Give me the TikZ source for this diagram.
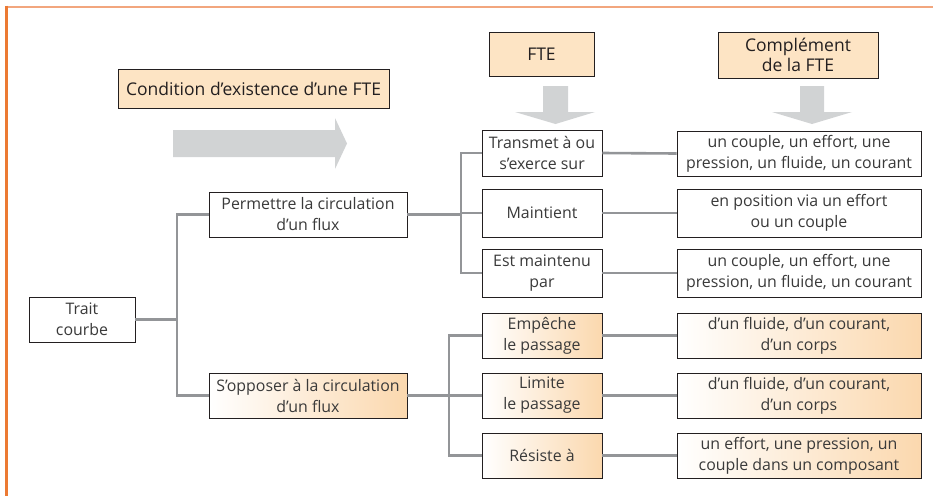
\documentclass[tikz,border=0pt]{standalone}
\usepackage{fontspec}
\setmainfont{Open Sans}
\usetikzlibrary{shadows}
\definecolor{frameTop}{HTML}{F2A67E}
\definecolor{frameLeft}{HTML}{EC7A33}
\definecolor{hdrfill}{HTML}{FDE4C4}
\definecolor{gradR}{HTML}{FBD8AE}
\definecolor{conn}{HTML}{939598}
\definecolor{arrowgray}{HTML}{D1D3D4}
\definecolor{boxline}{HTML}{231F20}
\definecolor{txt}{HTML}{3A3A3A}
\tikzset{
  base/.style={draw=boxline, line width=0.9pt, inner sep=0pt, align=center,
    drop shadow={shadow xshift=1.1pt, shadow yshift=-1.1pt, fill=black!45, opacity=1}},
  hdr/.style={base, fill=hdrfill, text=boxline, font=\fontsize{17.5}{21}\selectfont},
  box/.style={base, fill=white, text=txt, font=\fontsize{15.9}{21}\selectfont},
  gbox/.style={base, left color=white, right color=gradR, text=txt, font=\fontsize{15.9}{21}\selectfont},
  link/.style={draw=conn, line width=2.6pt},
  bigarrow/.style={fill=arrowgray, draw=none}
}
\begin{document}
\begin{tikzpicture}[x=1pt,y=-1pt]
\useasboundingbox (0,0) rectangle (933,496);
% frame
\draw[frameTop, line width=2.2pt] (6,6.7) -- (933,6.7);
\draw[frameLeft, line width=2.2pt] (6.5,5.6) -- (6.5,496);

% headers
\node[hdr, minimum width=271pt, minimum height=39pt] (cond) at (253.5,88.5) {Condition d’existence d’une FTE};
\node[hdr, minimum width=105pt, minimum height=44pt] (fte) at (541.5,54) {FTE};
\node[hdr, minimum width=160pt, minimum height=46pt] (comp) at (798,55) {Complément\\[-1pt]de la FTE};

% big arrows
\fill[bigarrow] (173,130) -- (335,130) -- (335,118) -- (347,143.5) -- (335,169) -- (335,157) -- (173,157) -- cycle;
\fill[bigarrow] (543,86) -- (568,86) -- (568,112) -- (595,112) -- (555.5,124) -- (515,112) -- (543,112) -- cycle;
\fill[bigarrow] (800,86) -- (824,86) -- (824,112) -- (852,112) -- (812,124) -- (772,112) -- (800,112) -- cycle;

% main nodes
\node[box, minimum width=106pt, minimum height=45pt] (trait) at (82,319.5) {Trait\\courbe};
\node[box, minimum width=198pt, minimum height=45pt] (perm) at (308,214.5) {Permettre la circulation\\d’un flux};
\node[gbox, minimum width=198pt, minimum height=45pt] (opp) at (308,395.5) {S’opposer à la circulation\\d’un flux};

\node[box, minimum width=120pt, minimum height=46pt] (trans) at (542,153) {Transmet à ou\\s’exerce sur};
\node[box, minimum width=120pt, minimum height=48pt] (maint) at (542,213) {Maintient};
\node[box, minimum width=120pt, minimum height=48pt] (est) at (542,273) {Est maintenu\\par};
\node[gbox, minimum width=120pt, minimum height=45pt] (emp) at (542,335.5) {Empêche\\le passage};
\node[gbox, minimum width=120pt, minimum height=45pt] (lim) at (542,395.5) {Limite\\le passage};
\node[gbox, minimum width=120pt, minimum height=45pt] (res) at (542,455.5) {Résiste à};

\node[box, minimum width=244pt, minimum height=45pt] (r1) at (799,153.5) {un couple, un effort, une\\pression, un fluide, un courant};
\node[box, minimum width=244pt, minimum height=48pt] (r2) at (799,213) {en position via un effort\\ou un couple};
\node[box, minimum width=244pt, minimum height=48pt] (r3) at (799,273) {un couple, un effort, une\\pression, un fluide, un courant};
\node[gbox, minimum width=244pt, minimum height=45pt] (r4) at (799,335.5) {d’un fluide, d’un courant,\\d’un corps};
\node[gbox, minimum width=244pt, minimum height=45pt] (r5) at (799,395.5) {d’un fluide, d’un courant,\\d’un corps};
\node[gbox, minimum width=244pt, minimum height=45pt] (r6) at (799,455.5) {un effort, une pression, un\\couple dans un composant};

% junctions
\coordinate (j1) at (177,319.5);
\coordinate (j2) at (461,214.5);
\coordinate (j3) at (449,395.5);

% connectors
\draw[link] (trait.east) -- (j1);
\draw[link] (perm.west) -| (j1) |- (opp.west);
\draw[link] (perm.east) -- (j2);
\draw[link] (trans.west) -| (j2) |- (est.west);
\draw[link] (maint.west) -- (maint.west -| j2);
\draw[link] (opp.east) -- (j3);
\draw[link] (emp.west) -| (j3) |- (res.west);
\draw[link] (lim.west) -- (j3);
\draw[link] (trans.east) -- (r1.west);
\draw[link] (maint.east) -- (r2.west);
\draw[link] (est.east) -- (r3.west);
\draw[link] (emp.east) -- (r4.west);
\draw[link] (lim.east) -- (r5.west);
\draw[link] (res.east) -- (r6.west);
\end{tikzpicture}
\end{document}
